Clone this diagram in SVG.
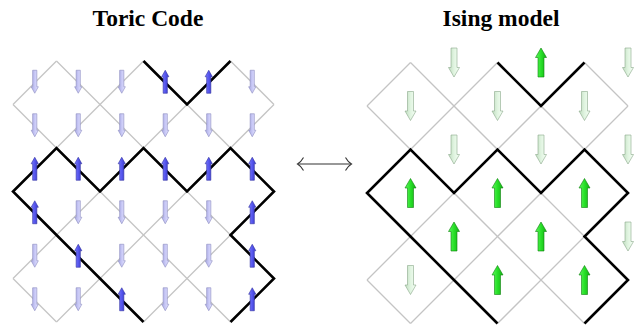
<svg xmlns="http://www.w3.org/2000/svg" xmlns:xlink="http://www.w3.org/1999/xlink" width="641" height="326" viewBox="0 0 641 326">
<style>
.title{font-family:"Liberation Serif","Times New Roman",serif;font-weight:bold;font-size:23.5px;fill:#000;text-anchor:middle}
.grid{fill:none;stroke:#c4c4c4;stroke-width:1.3}
.wall{fill:none;stroke:#000;stroke-width:2.6;stroke-linejoin:miter;stroke-miterlimit:10}
.conn{fill:none;stroke:#333;stroke-width:1.1}
</style>
<defs>
<linearGradient id="gBlue" x1="0" y1="0" x2="1" y2="0">
<stop offset="0" stop-color="#7c7cff"/><stop offset="0.5" stop-color="#5656ee"/><stop offset="1" stop-color="#3a3ac8"/>
</linearGradient>
<linearGradient id="gPaleBlue" x1="0" y1="0" x2="1" y2="0">
<stop offset="0" stop-color="#e4e4ff"/><stop offset="0.5" stop-color="#c8c8f6"/><stop offset="1" stop-color="#a8a8e0"/>
</linearGradient>
<linearGradient id="gGreen" x1="0" y1="0" x2="1" y2="0">
<stop offset="0" stop-color="#60f860"/><stop offset="0.5" stop-color="#28e028"/><stop offset="1" stop-color="#14b014"/>
</linearGradient>
<linearGradient id="gPaleGreen" x1="0" y1="0" x2="1" y2="0">
<stop offset="0" stop-color="#f6fff6"/><stop offset="0.5" stop-color="#e0f4e0"/><stop offset="1" stop-color="#c0dcc0"/>
</linearGradient>
<path id="tShape" d="M0,-11.5 L3.6,-5 L2.1,-5 L2.1,11.5 L-2.1,11.5 L-2.1,-5 L-3.6,-5 Z"/>
<path id="iShape" d="M0,-14.5 L5.5,-5 L3,-5 L3,14.5 L-3,14.5 L-3,-5 L-5.5,-5 Z"/>
<use id="tUp" xlink:href="#tShape" href="#tShape" fill="url(#gBlue)" stroke="#3030a0" stroke-width="0.6"/>
<g id="tDown"><use xlink:href="#tShape" href="#tShape" transform="rotate(180)" fill="url(#gPaleBlue)" stroke="#8c8cc0" stroke-width="0.6"/></g>
<use id="iUp" xlink:href="#iShape" href="#iShape" fill="url(#gGreen)" stroke="#0e800e" stroke-width="0.6"/>
<g id="iDown"><use xlink:href="#iShape" href="#iShape" transform="rotate(180)" fill="url(#gPaleGreen)" stroke="#8aa88a" stroke-width="0.6"/></g>
</defs>
<rect width="641" height="326" fill="#fff"/>

<g id="titles">
<text class="title" x="148" y="26">Toric Code</text>
<text class="title" x="501" y="26">Ising model</text>
</g>

<g id="toric-lattice">
<g class="grid">
<line x1="56.5" y1="61" x2="13" y2="104.5"/>
<line x1="143.5" y1="61" x2="13" y2="191.5"/>
<line x1="230.5" y1="61" x2="13" y2="278.5"/>
<line x1="274" y1="104.5" x2="56.5" y2="322"/>
<line x1="274" y1="191.5" x2="143.5" y2="322"/>
<line x1="274" y1="278.5" x2="230.5" y2="322"/>
<line x1="56.5" y1="61" x2="274" y2="278.5"/>
<line x1="143.5" y1="61" x2="274" y2="191.5"/>
<line x1="230.5" y1="61" x2="274" y2="104.5"/>
<line x1="13" y1="104.5" x2="230.5" y2="322"/>
<line x1="13" y1="191.5" x2="143.5" y2="322"/>
<line x1="13" y1="278.5" x2="56.5" y2="322"/>
</g>
<polyline class="wall" points="143.5,61 187,104.5 230.5,61"/>
<polyline class="wall" points="143.5,322 100,278.5 56.5,235 13,191.5 56.5,148 100,191.5 143.5,148 187,191.5 230.5,148 274,191.5 230.5,235 274,278.5 230.5,322"/>
</g>

<g id="toric-spins">
<use href="#tDown" xlink:href="#tDown" x="34.75" y="81.75"/>
<use href="#tDown" xlink:href="#tDown" x="78.25" y="81.75"/>
<use href="#tDown" xlink:href="#tDown" x="121.75" y="81.75"/>
<use href="#tUp" xlink:href="#tUp" x="165.25" y="81.75"/>
<use href="#tUp" xlink:href="#tUp" x="208.75" y="81.75"/>
<use href="#tDown" xlink:href="#tDown" x="252.25" y="81.75"/>

<use href="#tDown" xlink:href="#tDown" x="34.75" y="125.25"/>
<use href="#tDown" xlink:href="#tDown" x="78.25" y="125.25"/>
<use href="#tDown" xlink:href="#tDown" x="121.75" y="125.25"/>
<use href="#tDown" xlink:href="#tDown" x="165.25" y="125.25"/>
<use href="#tDown" xlink:href="#tDown" x="208.75" y="125.25"/>
<use href="#tDown" xlink:href="#tDown" x="252.25" y="125.25"/>

<use href="#tUp" xlink:href="#tUp" x="34.75" y="168.75"/>
<use href="#tUp" xlink:href="#tUp" x="78.25" y="168.75"/>
<use href="#tUp" xlink:href="#tUp" x="121.75" y="168.75"/>
<use href="#tUp" xlink:href="#tUp" x="165.25" y="168.75"/>
<use href="#tUp" xlink:href="#tUp" x="208.75" y="168.75"/>
<use href="#tUp" xlink:href="#tUp" x="252.25" y="168.75"/>

<use href="#tUp" xlink:href="#tUp" x="34.75" y="212.25"/>
<use href="#tDown" xlink:href="#tDown" x="78.25" y="212.25"/>
<use href="#tDown" xlink:href="#tDown" x="121.75" y="212.25"/>
<use href="#tDown" xlink:href="#tDown" x="165.25" y="212.25"/>
<use href="#tDown" xlink:href="#tDown" x="208.75" y="212.25"/>
<use href="#tUp" xlink:href="#tUp" x="252.25" y="212.25"/>

<use href="#tDown" xlink:href="#tDown" x="34.75" y="255.75"/>
<use href="#tUp" xlink:href="#tUp" x="78.25" y="255.75"/>
<use href="#tDown" xlink:href="#tDown" x="121.75" y="255.75"/>
<use href="#tDown" xlink:href="#tDown" x="165.25" y="255.75"/>
<use href="#tDown" xlink:href="#tDown" x="208.75" y="255.75"/>
<use href="#tUp" xlink:href="#tUp" x="252.25" y="255.75"/>

<use href="#tDown" xlink:href="#tDown" x="34.75" y="299.25"/>
<use href="#tDown" xlink:href="#tDown" x="78.25" y="299.25"/>
<use href="#tUp" xlink:href="#tUp" x="121.75" y="299.25"/>
<use href="#tDown" xlink:href="#tDown" x="165.25" y="299.25"/>
<use href="#tDown" xlink:href="#tDown" x="208.75" y="299.25"/>
<use href="#tUp" xlink:href="#tUp" x="252.25" y="299.25"/>
</g>

<g id="connectors">
<line class="conn" x1="298" y1="164" x2="351" y2="164"/>
<path class="conn" d="M303.5,157.5 Q301,162 297.5,164 Q301,166 303.5,170.5"/>
<path class="conn" d="M345.5,157.5 Q348,162 351.5,164 Q348,166 345.5,170.5"/>
</g>

<g id="ising-lattice">
<g class="grid">
<line x1="410.5" y1="62.5" x2="367" y2="106"/>
<line x1="497.5" y1="62.5" x2="367" y2="193"/>
<line x1="584.5" y1="62.5" x2="367" y2="280"/>
<line x1="628" y1="106" x2="410.5" y2="323.5"/>
<line x1="628" y1="193" x2="497.5" y2="323.5"/>
<line x1="628" y1="280" x2="584.5" y2="323.5"/>
<line x1="410.5" y1="62.5" x2="628" y2="280"/>
<line x1="497.5" y1="62.5" x2="628" y2="193"/>
<line x1="584.5" y1="62.5" x2="628" y2="106"/>
<line x1="367" y1="106" x2="584.5" y2="323.5"/>
<line x1="367" y1="193" x2="497.5" y2="323.5"/>
<line x1="367" y1="280" x2="410.5" y2="323.5"/>
</g>
<polyline class="wall" points="497.5,62.5 541,106 584.5,62.5"/>
<polyline class="wall" points="497.5,323.5 454,280 410.5,236.5 367,193 410.5,149.5 454,193 497.5,149.5 541,193 584.5,149.5 628,193 584.5,236.5 628,280 584.5,323.5"/>
</g>

<g id="ising-spins">
<use href="#iDown" xlink:href="#iDown" x="454" y="62.5"/>
<use href="#iUp" xlink:href="#iUp" x="541" y="62.5"/>
<use href="#iDown" xlink:href="#iDown" x="628" y="62.5"/>

<use href="#iDown" xlink:href="#iDown" x="410.5" y="106"/>
<use href="#iDown" xlink:href="#iDown" x="497.5" y="106"/>
<use href="#iDown" xlink:href="#iDown" x="584.5" y="106"/>

<use href="#iDown" xlink:href="#iDown" x="454" y="149.5"/>
<use href="#iDown" xlink:href="#iDown" x="541" y="149.5"/>
<use href="#iDown" xlink:href="#iDown" x="628" y="149.5"/>

<use href="#iUp" xlink:href="#iUp" x="410.5" y="193"/>
<use href="#iUp" xlink:href="#iUp" x="497.5" y="193"/>
<use href="#iUp" xlink:href="#iUp" x="584.5" y="193"/>

<use href="#iUp" xlink:href="#iUp" x="454" y="236.5"/>
<use href="#iUp" xlink:href="#iUp" x="541" y="236.5"/>
<use href="#iDown" xlink:href="#iDown" x="628" y="236.5"/>

<use href="#iDown" xlink:href="#iDown" x="410.5" y="280"/>
<use href="#iUp" xlink:href="#iUp" x="497.5" y="280"/>
<use href="#iUp" xlink:href="#iUp" x="584.5" y="280"/>
</g>
</svg>
